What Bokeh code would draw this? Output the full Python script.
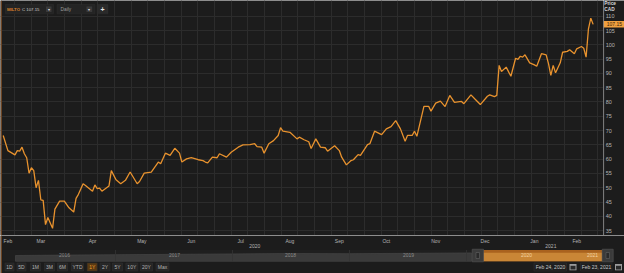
from bokeh.plotting import figure
from bokeh.models import (Range1d, FixedTicker, Label, BoxAnnotation,
                          ColumnDataSource, Grid)
from bokeh.layouts import column, row
from bokeh.embed import file_html
from bokeh.resources import INLINE
from bokeh.core.properties import value
import numpy as np

# ---------------- data ----------------
# trading-day index counted from Feb 24, 2020
day_index = [0, 2, 5, 6, 7, 8, 9, 10, 11, 12, 13, 14, 15, 16, 17, 18, 19, 21, 22, 24, 26, 28, 30, 31,
             32, 34, 35, 38, 39, 40, 41, 42, 45, 46, 48, 50, 52, 54, 57, 58, 60, 63, 66, 67, 69, 71,
             73, 75, 76, 78, 80, 83, 85, 86, 87, 89, 91, 92, 95, 97, 100, 102, 105, 107, 108, 110,
             111, 113, 115, 117, 118, 119, 122, 125, 126, 128, 130, 131, 133, 135, 137, 138, 141,
             143, 144, 146, 148, 149, 151, 152, 155, 156, 158, 161, 163, 165, 167, 169, 171, 172,
             174, 175, 176, 179, 181, 182, 184, 186, 188, 190, 192, 195, 196, 199, 201, 203, 206,
             207, 209, 210, 211, 212, 214, 216, 218, 219, 220, 221, 222, 224, 226, 227, 229, 231,
             232, 233, 234, 235, 237, 238, 240, 241, 243, 244, 246, 247, 248, 249, 250, 251]
close_cad = [68.3, 63.0, 61.5, 63.0, 62.8, 64.2, 61.9, 60.5, 55.1, 57.0, 56.0, 50.0, 52.6, 45.8,
             45.6, 37.1, 39.6, 35.8, 42.5, 45.3, 45.3, 43.0, 41.5, 46.3, 47.7, 51.4, 50.8, 48.8,
             51.0, 49.7, 49.9, 48.8, 50.6, 56.0, 52.8, 51.4, 52.6, 55.5, 51.4, 52.2, 55.1, 55.5,
             59.0, 58.4, 62.1, 61.3, 63.8, 62.1, 59.0, 60.1, 60.5, 59.8, 59.5, 59.0, 58.7, 60.7,
             60.5, 61.9, 60.7, 62.4, 64.2, 65.0, 65.1, 65.4, 64.4, 64.2, 62.1, 65.4, 66.5, 68.3,
             71.0, 69.8, 69.4, 67.1, 67.7, 66.8, 66.1, 63.7, 67.1, 64.2, 64.0, 62.8, 64.7, 63.0,
             60.7, 58.0, 59.5, 59.8, 61.6, 61.3, 65.1, 65.4, 69.8, 68.6, 70.6, 71.4, 73.5, 70.6,
             66.3, 68.3, 68.3, 69.8, 68.0, 78.5, 78.5, 76.8, 79.6, 80.3, 78.4, 82.3, 79.9, 80.2,
             79.4, 82.5, 80.8, 79.1, 82.0, 82.5, 81.9, 82.3, 92.8, 90.7, 92.2, 89.0, 95.3, 94.9,
             96.0, 95.7, 96.5, 93.7, 93.0, 92.5, 96.9, 96.5, 93.4, 89.3, 92.8, 90.2, 93.7, 97.4,
             97.7, 98.3, 96.9, 98.6, 99.4, 98.8, 95.7, 105.6, 109.3, 107.15]

month_tick_days = [2, 16, 38, 59, 80, 101, 122, 143, 163, 184, 205, 226, 244]
month_labels = ["Feb", "Mar", "Apr", "May", "Jun", "Jul", "Aug", "Sep", "Oct", "Nov", "Dec", "Jan", "Feb"]
year_tick_days = [107, 233]
year_labels = ["2020", "2021"]
price_ticks = [35, 40, 45, 50, 55, 60, 65, 70, 75, 80, 85, 90, 95, 100, 105, 110]
price_tick_labels = [str(t) for t in price_ticks]
axis_title = ["Price", "CAD"]
last_price = 107.15
ric = "MILTO"
interval = "Daily"
nav_years = ["2016", "2017", "2018", "2019", "2020", "2021"]
range_buttons = ["1D", "5D", "1M", "3M", "6M", "YTD", "1Y", "2Y", "5Y", "10Y", "20Y", "Max"]
date_from = "Feb 24, 2020"
date_to = "Feb 23, 2021"

# ---------------- styles ----------------
BG = "#1c1c1c"
GRID = "#2c2c2c"
ORANGE = "#e8922e"
FONT = "Liberation Sans"
TXT = "#b4b4b4"
X0, X1 = -1.15, 255.4          # day range shown across the 603 px chart frame
FRAME_W, RIGHT_W = 603, 21
H = 235
YR = Range1d(33.3, 115.5)

# ---------------- main chart ----------------
p = figure(width=FRAME_W, height=H, x_range=Range1d(X0, X1), y_range=YR,
           output_backend="svg", toolbar_location=None, min_border=0,
           background_fill_color=BG, border_fill_color=BG,
           outline_line_color=None, x_axis_location=None, y_axis_location=None)
p.frame_align = False
p.center = [r for r in p.center if not isinstance(r, Grid)]

grid_days = list(np.arange(4.8, 256, 7.09))
p.add_layout(Grid(dimension=0, ticker=FixedTicker(ticks=grid_days), grid_line_color=GRID, grid_line_width=1))
p.add_layout(Grid(dimension=1, ticker=FixedTicker(ticks=price_ticks), grid_line_color=GRID, grid_line_width=1))

src = ColumnDataSource(dict(day=day_index, close=close_cad))
p.line("day", "close", source=src, line_color=ORANGE, line_width=1.3)


def box(l, r, t, b, fill, line):
    p.add_layout(BoxAnnotation(left=l, right=r, top=H - t, bottom=H - b,
                               left_units="screen", right_units="screen",
                               top_units="screen", bottom_units="screen",
                               fill_color=fill, fill_alpha=1, line_color=line, line_width=0.8))


def lab(x, y, text, color, size="5px", align="left", bold=False):
    p.add_layout(Label(x=x, y=H - y, x_units="screen", y_units="screen", text=text,
                       text_color=color, text_font_size=size, text_font=FONT,
                       text_align=align, text_baseline="middle",
                       text_font_style="bold" if bold else "normal"))


# left window edge
box(0, 1.5, 0, H, "#6b4322", None)
# toolbar
box(5, 53, 4, 13.3, "#242424", "#3c3c3c")
lab(6.5, 8.7, ric, "#d9822b", size="4.3px", bold=True)
lab(21.5, 8.7, "C %.2f" % last_price, "#d0d0d0", size="4.3px")
box(45.5, 51, 6, 11.5, "#3a3a3a", None)
lab(48.3, 8.5, "▾", "#e0e0e0", size="4px", align="center")
box(56.5, 94.5, 4, 13.3, "#242424", "#3c3c3c")
lab(60, 8.7, interval, "#9a9a9a", size="4.8px")
box(86, 91.7, 6, 11.5, "#3a3a3a", None)
lab(88.9, 8.5, "▾", "#e0e0e0", size="4px", align="center")
box(96.5, 107.5, 4, 13.3, "#2a2a2a", "#3c3c3c")
lab(102, 8.6, "+", "#e6e6e6", size="7px", align="center", bold=True)

# ---------------- price scale strip (shares the chart's y scale) ----------------
r = figure(width=RIGHT_W, height=H, x_range=Range1d(0, RIGHT_W), y_range=YR,
           output_backend="svg", toolbar_location=None, min_border=0,
           background_fill_color=BG, border_fill_color=BG, outline_line_color=None,
           x_axis_location=None, y_axis_location=None)
r.frame_align = False
r.grid.visible = False
r.extra_y_ranges = {"px": Range1d(H, 0)}
r.segment(x0=[0.4], y0=[YR.start], x1=[0.4], y1=[YR.end], line_color="#3a3a3a", line_width=0.8)
r.text(x=[2.2] * len(price_ticks), y=price_ticks, text=price_tick_labels, text_color=TXT,
       text_font=value(FONT), text_font_size="5.5px", text_align="left", text_baseline="middle")
r.text(x=[0.8, 0.8], y=[3.2, 9.2], text=axis_title, y_range_name="px", text_color="#d8d8d8",
       text_font=value(FONT), text_font_size="4.8px", text_font_style="bold",
       text_align="left", text_baseline="middle")
r.rect(x=[10.5], y=[last_price], width=[20.5], height=[6.5], height_units="screen",
       fill_color="#f0a040", line_color=None)
r.text(x=[3.2], y=[last_price], text=["%.2f" % last_price], text_color="#3a2204",
       text_font=value(FONT), text_font_size="5px", text_align="left", text_baseline="middle")

# ---------------- month labels, navigator, buttons ----------------
q = figure(width=624, height=38, x_range=Range1d(0, 624), y_range=Range1d(273, 235),
           output_backend="svg", toolbar_location=None, min_border=0,
           background_fill_color=BG, border_fill_color=BG, outline_line_color=None,
           x_axis_location=None, y_axis_location=None)
q.frame_align = False
q.grid.visible = False
days_per_px = (X1 - X0) / FRAME_W
q.extra_x_ranges = {"days": Range1d(X0, X0 + 624 * days_per_px)}

q.text(x=month_tick_days, y=[240.8] * len(month_tick_days), text=month_labels, x_range_name="days",
       text_color=TXT, text_font=value(FONT), text_font_size="5px", text_align="center",
       text_baseline="middle")
q.text(x=year_tick_days, y=[245.8] * len(year_tick_days), text=year_labels, x_range_name="days",
       text_color=TXT, text_font=value(FONT), text_font_size="5px", text_align="center",
       text_baseline="middle")

q.quad(left=[0], right=[1.5], top=[235], bottom=[273], fill_color="#6b4322", line_color=None)
# navigator strip
q.quad(left=[2], right=[603], top=[249.5], bottom=[260.8], fill_color="#1f1f1f", line_color=None)
q.patch([15, 60, 115, 175, 232, 290, 349, 410, 471, 471, 15],
        [255.0, 254.6, 254.2, 253.8, 253.4, 253.0, 253.2, 252.8, 252.4, 260.8, 260.8],
        fill_color="#3a3a3a", line_color="#4a4a4a", line_width=0.6)
q.segment(x0=[115, 232, 349, 466], y0=[249.5] * 4, x1=[115, 232, 349, 466], y1=[260.8] * 4,
          line_color="#333333", line_width=0.8)
# selection
q.quad(left=[483], right=[601.7], top=[249.5], bottom=[260.8], fill_color="#a9621e", line_color=None)
q.quad(left=[483], right=[601.7], top=[252.3], bottom=[260.8], fill_color="#c98636", line_color=None)
q.quad(left=[471.7, 601.7], right=[483, 612.7], top=[248.7, 248.7], bottom=[261.3, 261.3],
       fill_color="#3b3b3b", line_color="#555555", line_width=0.6)
q.quad(left=[475.5, 605.5], right=[479, 609], top=[252, 252], bottom=[258, 258],
       fill_color="#2a2a2a", line_color="#6a6a6a", line_width=0.5)
nav_x = [64, 174, 290, 408, 526, 592]
nav_col = ["#8a8a8a"] * 4 + ["#f3d2a2", "#f3d2a2"]
q.text(x=nav_x, y=[254.6] * 6, text=nav_years, text_color=nav_col, text_font=value(FONT),
       text_font_size="5px", text_align="center", text_baseline="middle")

# range buttons
btn_x = [9, 21, 35, 49, 62, 77, 91.7, 104.5, 117, 131.3, 146, 162]
btn_w = [9, 9, 10, 10, 10, 12, 10, 10, 10, 12, 12, 13]
btn_fill = ["#262626"] * 12
btn_fill[6] = "#5a3a12"
btn_txt = [TXT] * 12
btn_txt[6] = "#f0a030"
q.quad(left=[x - w / 2 for x, w in zip(btn_x, btn_w)], right=[x + w / 2 for x, w in zip(btn_x, btn_w)],
       top=[262.5] * 12, bottom=[270.5] * 12, fill_color=btn_fill, line_color="#333333",
       line_width=0.5)
q.text(x=btn_x, y=[266.6] * 12, text=range_buttons, text_color=btn_txt, text_font=value(FONT),
       text_font_size="5px", text_align="center", text_baseline="middle")

# date boxes
q.quad(left=[533.5, 580], right=[566, 611.5], top=[262.5, 262.5], bottom=[270.5, 270.5],
       fill_color="#1f1f1f", line_color="#333333", line_width=0.5)
q.text(x=[550, 596], y=[266.6, 266.6], text=[date_from, date_to], text_color="#c8c8c8",
       text_font=value(FONT), text_font_size="5px", text_align="center", text_baseline="middle")
q.quad(left=[569, 614.5], right=[576, 621.5], top=[263.5, 263.5], bottom=[269.8, 269.8],
       fill_color="#9a9a9a", line_color=None)
q.quad(left=[570, 615.5], right=[575, 620.5], top=[265.3, 265.3], bottom=[269, 269],
       fill_color="#2a2a2a", line_color=None)

layout = column(row(p, r, spacing=0), q, spacing=0)
open("out.html", "w").write(file_html(layout, INLINE))
